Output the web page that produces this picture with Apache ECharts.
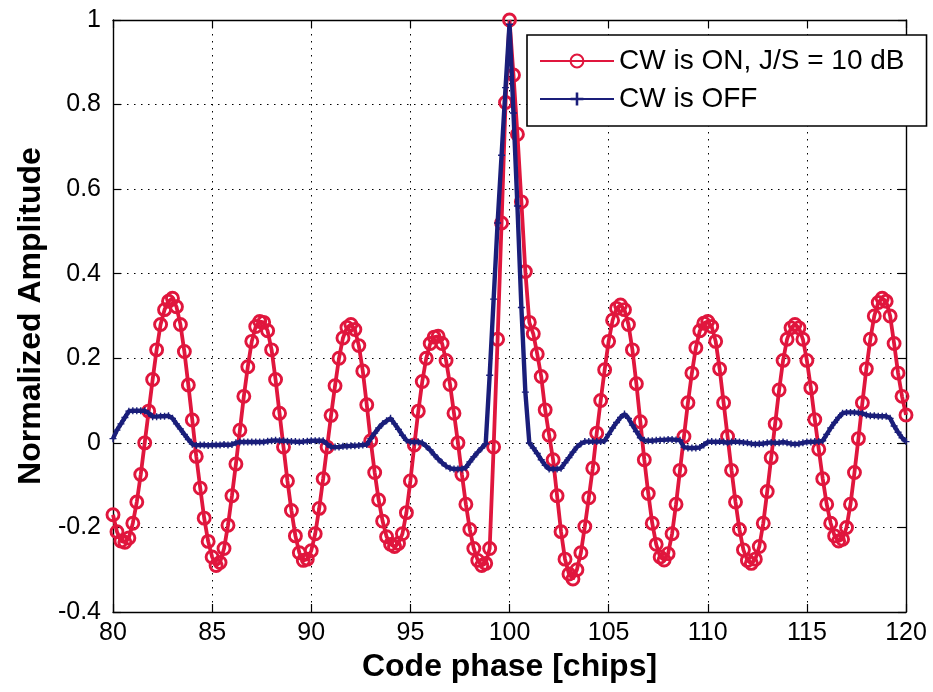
<!DOCTYPE html>
<html>
<head>
<meta charset="utf-8">
<script src="https://cdn.jsdelivr.net/npm/echarts@6/dist/echarts.min.js"></script>
<style>
html,body{margin:0;padding:0;background:#fff;}
#chart{width:933px;height:692px;}
</style>
</head>
<body>
<div id="chart"></div>
<script>
// Sample positions: code phase from 80 to 120 chips, step 0.2 chip
const xStart = 80;
const xStep = 0.2;

const xTicks = [80, 85, 90, 95, 100, 105, 110, 115, 120];
const yTicks = [-0.4, -0.2, 0, 0.2, 0.4, 0.6, 0.8, 1];

const seriesNames = ['CW is ON, J/S = 10 dB', 'CW is OFF'];

// CW is ON (red, circles)
const cwOn = [
  -0.17, -0.21, -0.232, -0.235, -0.225, -0.19, -0.14, -0.075, 0.0, 0.075,
  0.15, 0.22, 0.28, 0.315, 0.335, 0.342, 0.322, 0.28, 0.216, 0.137,
  0.054, -0.032, -0.107, -0.178, -0.233, -0.27, -0.29, -0.283, -0.25, -0.195,
  -0.125, -0.05, 0.03, 0.11, 0.18, 0.24, 0.275, 0.287, 0.285, 0.265,
  0.22, 0.15, 0.07, -0.01, -0.09, -0.16, -0.22, -0.26, -0.278, -0.275,
  -0.255, -0.215, -0.155, -0.085, -0.01, 0.065, 0.135, 0.2, 0.248, 0.273,
  0.28, 0.268, 0.23, 0.17, 0.09, 0.005, -0.07, -0.135, -0.185, -0.222,
  -0.24, -0.245, -0.238, -0.215, -0.165, -0.09, -0.005, 0.075, 0.145, 0.2,
  0.235, 0.25, 0.252, 0.235, 0.195, 0.138, 0.07, 0.0, -0.075, -0.145,
  -0.205, -0.25, -0.278, -0.29, -0.285, -0.25, -0.01, 0.245, 0.52, 0.805,
  1.0, 0.87, 0.73, 0.57, 0.405, 0.285, 0.258, 0.21, 0.157, 0.078,
  0.018, -0.04, -0.125, -0.21, -0.275, -0.31, -0.322, -0.3, -0.26, -0.198,
  -0.13, -0.06, 0.023, 0.1, 0.173, 0.24, 0.29, 0.318, 0.326, 0.315,
  0.28, 0.22, 0.14, 0.05, -0.04, -0.12, -0.19, -0.24, -0.27, -0.277,
  -0.262, -0.215, -0.145, -0.065, 0.015, 0.095, 0.165, 0.225, 0.265, 0.283,
  0.287, 0.275, 0.24, 0.175, 0.095, 0.015, -0.065, -0.14, -0.205, -0.253,
  -0.278, -0.285, -0.275, -0.245, -0.19, -0.115, -0.035, 0.045, 0.125, 0.195,
  0.245, 0.272, 0.28, 0.272, 0.245, 0.195, 0.13, 0.055, -0.015, -0.085,
  -0.145, -0.19, -0.22, -0.232, -0.228, -0.2, -0.145, -0.07, 0.01, 0.095,
  0.175, 0.245, 0.3, 0.332, 0.342, 0.335, 0.3, 0.235, 0.165, 0.11,
  0.066
];

// CW is OFF (blue, plus markers)
const cwOff = [
  0.01, 0.03, 0.045, 0.06, 0.075, 0.076, 0.076, 0.076, 0.076, 0.07,
  0.062, 0.062, 0.063, 0.063, 0.064, 0.058, 0.045, 0.033, 0.02, 0.008,
  -0.003, -0.006, -0.005, -0.005, -0.006, -0.005, -0.005, -0.005, -0.004, -0.005,
  -0.004, 0.0, 0.002, 0.002, 0.002, 0.002, 0.002, 0.002, 0.002, 0.004,
  0.005, 0.006, 0.005, 0.005, 0.004, 0.003, 0.003, 0.002, 0.003, 0.004,
  0.005, 0.005, 0.005, 0.005, -0.003, -0.01, -0.01, -0.01, -0.008, -0.008,
  -0.007, -0.007, -0.006, -0.005, -0.004, 0.01, 0.023, 0.035, 0.045, 0.052,
  0.058, 0.045, 0.032, 0.018, 0.006, 0.002, 0.002, 0.002, 0.0, -0.008,
  -0.017, -0.028, -0.038, -0.047, -0.055, -0.06, -0.062, -0.062, -0.062, -0.058,
  -0.045, -0.033, -0.022, -0.012, -0.002, 0.16, 0.34, 0.52, 0.68, 0.84,
  0.99, 0.78, 0.56, 0.32, 0.12, 0.0, -0.012, -0.025, -0.04, -0.053,
  -0.062, -0.062, -0.062, -0.06, -0.047, -0.035, -0.022, -0.01, -0.002, 0.003,
  0.003, 0.003, 0.003, 0.003, 0.005, 0.02, 0.035, 0.048, 0.06, 0.068,
  0.058, 0.042, 0.027, 0.012, 0.006, 0.005, 0.005, 0.006, 0.007, 0.007,
  0.008, 0.008, 0.007, 0.006, -0.01, -0.012, -0.012, -0.012, -0.011, -0.005,
  0.002, 0.003, 0.002, 0.003, 0.002, 0.0, 0.002, 0.003, 0.002, 0.001,
  0.0, -0.002, -0.003, -0.002, -0.002, 0.0, 0.001, 0.0, 0.0, 0.002,
  0.0, -0.002, -0.003, -0.002, 0.0, 0.002, 0.002, 0.003, 0.003, 0.005,
  0.02, 0.035, 0.048, 0.06, 0.07, 0.072, 0.072, 0.072, 0.071, 0.07,
  0.066, 0.064, 0.064, 0.063, 0.063, 0.063, 0.058, 0.04, 0.025, 0.012,
  0.003
];

const FONT = '"Liberation Sans", Arial, Helvetica, sans-serif';
const RED = '#e0163d';
const BLUE = '#1a1e7a';

function toPairs(vals) {
  return vals.map((v, i) => [+(xStart + i * xStep).toFixed(2), v]);
}

const chart = echarts.init(document.getElementById('chart'), null, {renderer: 'canvas'});

const gridLine = {show: true, lineStyle: {color: '#000', width: 1, type: [1.5, 5.5]}};
const frameLine = {show: true, onZero: false, lineStyle: {color: '#000', width: 1.4}};
const inTick = {show: true, inside: true, length: 8, lineStyle: {color: '#000', width: 1.2}};

const option = {
  backgroundColor: '#fff',
  animation: false,
  grid: {left: 113, right: 27, top: 20, bottom: 80, containLabel: false},
  xAxis: [{
    type: 'value', min: xTicks[0], max: xTicks[xTicks.length - 1], interval: 5,
    name: 'Code phase [chips]', nameLocation: 'middle', nameGap: 36,
    nameTextStyle: {fontFamily: FONT, fontSize: 32, fontWeight: 'bold', color: '#000'},
    axisLine: frameLine, axisTick: inTick,
    axisLabel: {fontFamily: FONT, fontSize: 25, color: '#000', margin: 9},
    splitLine: gridLine
  }, {
    type: 'value', position: 'top', min: xTicks[0], max: xTicks[xTicks.length - 1], interval: 5,
    axisLine: frameLine, axisTick: inTick,
    axisLabel: {show: false}, splitLine: {show: false}
  }],
  yAxis: [{
    type: 'value', min: yTicks[0], max: yTicks[yTicks.length - 1], interval: 0.2,
    name: 'Normalized Amplitude', nameLocation: 'middle', nameGap: 66,
    nameTextStyle: {fontFamily: FONT, fontSize: 32, fontWeight: 'bold', color: '#000'},
    axisLine: frameLine, axisTick: inTick,
    axisLabel: {fontFamily: FONT, fontSize: 25, color: '#000', margin: 12,
      formatter: v => String(+v.toFixed(2))},
    splitLine: gridLine
  }, {
    type: 'value', position: 'right', min: yTicks[0], max: yTicks[yTicks.length - 1], interval: 0.2,
    axisLine: frameLine, axisTick: inTick,
    axisLabel: {show: false}, splitLine: {show: false}
  }],
  legend: {
    left: 527, top: 35, orient: 'vertical',
    backgroundColor: '#fff', borderColor: '#000', borderWidth: 1.6,
    padding: [12, 22, 13, 12], itemGap: 10, itemWidth: 74, itemHeight: 16,
    textStyle: {fontFamily: FONT, fontSize: 28, color: '#000'},
    data: seriesNames
  },
  series: [{
    name: seriesNames[0], type: 'line', data: toPairs(cwOn),
    symbol: 'circle', symbolSize: 12, showAllSymbol: true,
    lineStyle: {color: RED, width: 3.8},
    itemStyle: {color: 'rgba(255,255,255,0)', borderColor: RED, borderWidth: 2.9},
    z: 2
  }, {
    name: seriesNames[1], type: 'line', data: toPairs(cwOff),
    symbol: 'path://M4,0H6V4H10V6H6V10H4V6H0V4H4Z', symbolSize: 7, showAllSymbol: true,
    lineStyle: {color: BLUE, width: 4.4},
    itemStyle: {color: BLUE},
    z: 3
  }]
};
chart.setOption(option);
</script>
</body>
</html>
